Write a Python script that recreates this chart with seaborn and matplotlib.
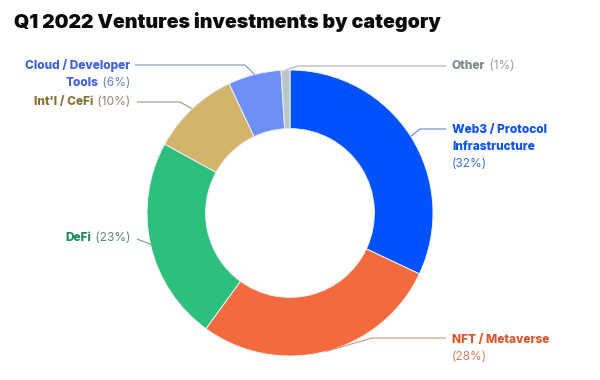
import matplotlib
matplotlib.use("Agg")
import numpy as np
import matplotlib.pyplot as plt
import seaborn as sns

# data
categories = ["Web3 / Protocol\nInfrastructure", "NFT / Metaverse", "DeFi",
              "Int'l / CeFi", "Cloud / Developer\nTools", "Other"]
shares = [32, 28, 23, 10, 6, 1]
wedge_colors = ["#0052FF", "#F26A3E", "#2DBF7E", "#D4B46B", "#6E8EF8", "#B9C5C8"]
name_colors = ["#0B52F0", "#D9562A", "#1E8A5C", "#8A7332", "#3E62D8", "#7F888C"]
pct_colors = ["#3F6FD8", "#D4805C", "#5E8A74", "#8E8672", "#6D80B8", "#9AA0A3"]
title = "Q1 2022 Ventures investments by category"

# layout (image pixel coords, y measured from top)
W, H = 600, 380
CX, CY, R = 290, 213, 143
RING = 0.41
FS = 8.6
FONT = "Inter"
# label anchor, side, percent on its own line, leader elbow + end
label_layout = [
    dict(xy=(452, 130), side="left", pct_own_line=True, path=[(420, 129), (446, 129)]),
    dict(xy=(452, 340), side="left", pct_own_line=True, path=[(372, 338), (446, 338)]),
    dict(xy=(130, 238), side="right", pct_own_line=False, path=[(137, 239)]),
    dict(xy=(130, 102), side="right", pct_own_line=False, path=[(180, 102), (137, 102)]),
    dict(xy=(130, 66), side="right", pct_own_line=False, path=[(245, 65), (135, 65)]),
    dict(xy=(452, 66), side="left", pct_own_line=False, path=[(298, 66), (446, 66)]),
]
LINE_H = 17

sns.set_theme(style="white")
plt.rcParams["font.family"] = [FONT, "DejaVu Sans"]

fig = plt.figure(figsize=(W / 100, H / 100), dpi=100)
ax = fig.add_axes([0, 0, 1, 1])

def Y(y):
    return H - y

wedges, _ = ax.pie(shares, colors=wedge_colors, startangle=90, counterclock=False,
                   center=(CX, Y(CY)), radius=R,
                   wedgeprops=dict(width=R * RING, edgecolor="#eef0f0", linewidth=0.7))
ax.set_xlim(0, W)
ax.set_ylim(0, H)
ax.set_aspect("equal")
ax.axis("off")

renderer = fig.canvas.get_renderer()

def put_line(x, y, bold, regular, cb, cr, side):
    if side == "left":
        t = ax.text(x, Y(y), bold, ha="left", va="center", fontsize=FS,
                    weight="heavy", color=cb)
        if regular:
            w = t.get_window_extent(renderer).width
            ax.text(x + w, Y(y), regular, ha="left", va="center", fontsize=FS, color=cr)
    else:
        if regular:
            t = ax.text(x, Y(y), regular, ha="right", va="center", fontsize=FS, color=cr)
            x = x - t.get_window_extent(renderer).width
        ax.text(x, Y(y), bold, ha="right", va="center", fontsize=FS,
                weight="heavy", color=cb)

for w, name, share, lay, cb, cr in zip(wedges, categories, shares, label_layout,
                                       name_colors, pct_colors):
    ang = np.deg2rad((w.theta1 + w.theta2) / 2)
    x0 = CX + R * np.cos(ang)
    y0 = Y(CY) + R * np.sin(ang)
    pts = [(x0, y0)] + [(px, Y(py)) for px, py in lay["path"]]
    xs, ys = zip(*pts)
    ax.plot(xs, ys, color=cr, lw=0.8, alpha=0.85, solid_capstyle="butt")

    lines = name.split("\n")
    pct = f"({share}%)"
    lx, ly = lay["xy"]
    for i, ln in enumerate(lines):
        last = i == len(lines) - 1
        reg = " " + pct if (last and not lay["pct_own_line"]) else ""
        put_line(lx, ly + i * LINE_H, ln, reg, cb, cr, lay["side"])
    if lay["pct_own_line"]:
        ax.text(lx, Y(ly + len(lines) * LINE_H), pct, ha="left", va="center",
                fontsize=FS, color=cr)

fig.text(14 / W, 1 - 22 / H, title, ha="left", va="center", fontsize=14.1,
         weight=900, color="#0a0b0d")

fig.savefig("out.png", dpi=100)
